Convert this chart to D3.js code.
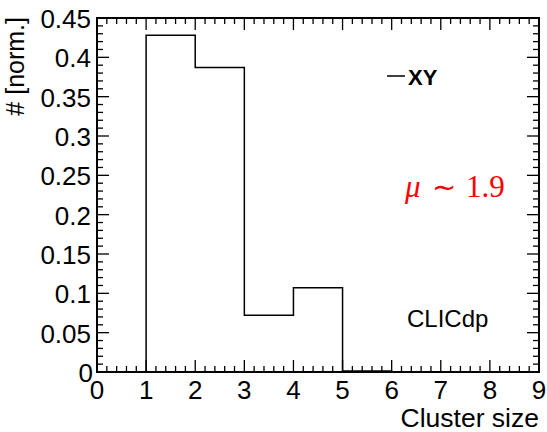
<!DOCTYPE html>
<html><head><meta charset="utf-8">
<script src="https://cdn.jsdelivr.net/npm/d3@7"></script>
<style>body{margin:0;background:#fff}</style>
</head><body>
<script>
const binEdges = [0,1,2,3,4,5,6,7,8,9];
const binValues = [0,0.428,0.387,0.072,0.107,0.0012,0,0,0];
const xTicks = [0,1,2,3,4,5,6,7,8,9];
const yTicks = [0,0.05,0.1,0.15,0.2,0.25,0.3,0.35,0.4,0.45];
const yTickLabels = ["0","0.05","0.1","0.15","0.2","0.25","0.3","0.35","0.4","0.45"];

const W=547,H=432;
const m={l:97,r:539,t:18,b:372};
const svg=d3.select("body").append("svg").attr("width",W).attr("height",H);
const x=d3.scaleLinear().domain([0,9]).range([m.l,m.r]);
const y=d3.scaleLinear().domain([0,0.45]).range([m.b,m.t]);
const font="Liberation Sans, Arial, sans-serif";

// histogram
const pts=[];
binValues.forEach((v,i)=>{pts.push([binEdges[i],v]);pts.push([binEdges[i+1],v]);});
svg.append("path").attr("d",d3.line().x(d=>x(d[0])).y(d=>y(d[1]))(pts))
  .attr("fill","none").attr("stroke","#000").attr("stroke-width",1.5);

// frame
svg.append("rect").attr("x",m.l).attr("y",m.t).attr("width",m.r-m.l).attr("height",m.b-m.t)
  .attr("fill","none").attr("stroke","#000").attr("stroke-width",2);

const g=svg.append("g").attr("stroke","#000").attr("stroke-width",1.3);
const yMinor=d3.range(0,0.4501,0.01);
yMinor.forEach(v=>{
  const major=Math.abs(v/0.05-Math.round(v/0.05))<1e-6;
  const len=major?12:6;
  g.append("line").attr("x1",x(0)).attr("x2",x(0)+len).attr("y1",y(v)).attr("y2",y(v));
  g.append("line").attr("x1",x(9)).attr("x2",x(9)-len).attr("y1",y(v)).attr("y2",y(v));
});
const xMinor=d3.range(0,9.001,0.2);
xMinor.forEach(v=>{
  const major=Math.abs(v-Math.round(v))<1e-6;
  const len=major?12:6;
  g.append("line").attr("y1",y(0)).attr("y2",y(0)-len).attr("x1",x(v)).attr("x2",x(v));
  g.append("line").attr("y1",y(0.45)).attr("y2",y(0.45)+len).attr("x1",x(v)).attr("x2",x(v));
});

// y labels
yTicks.forEach((v,i)=>{
  svg.append("text").attr("x",v===0?93:91).attr("y",v===0?382:y(v)+10).attr("text-anchor","end")
    .attr("font-family",font).attr("font-size",26).text(yTickLabels[i]);
});
xTicks.forEach(v=>{
  svg.append("text").attr("x",x(v)).attr("y",399).attr("text-anchor","middle")
    .attr("font-family",font).attr("font-size",26).text(v);
});

svg.append("text").attr("x",539).attr("y",427).attr("text-anchor","end")
  .attr("font-family",font).attr("font-size",26.5).text("Cluster size");
svg.append("text").attr("transform","translate(24,17) rotate(-90)").attr("text-anchor","end")
  .attr("font-family",font).attr("font-size",25).text("# [norm.]");

svg.append("text").attr("x",407).attr("y",327)
  .attr("font-family",font).attr("font-size",24).text("CLICdp");

// legend
svg.append("line").attr("x1",387).attr("x2",405).attr("y1",76).attr("y2",76)
  .attr("stroke","#000").attr("stroke-width",1.5);
svg.append("text").attr("x",408).attr("y",85).attr("font-family",font)
  .attr("font-size",22).attr("font-weight","bold").text("XY");

const serif="Liberation Serif, Times New Roman, serif";
const mu=svg.append("text").attr("y",197).attr("fill","#ff0000")
  .attr("font-family",serif).attr("font-size",31);
mu.append("tspan").attr("x",405).attr("font-style","italic").text("\u03bc");
mu.append("tspan").attr("x",432).attr("font-size",29).text("\u223c");
mu.append("tspan").attr("x",466).text("1.9");
</script>
</body></html>
